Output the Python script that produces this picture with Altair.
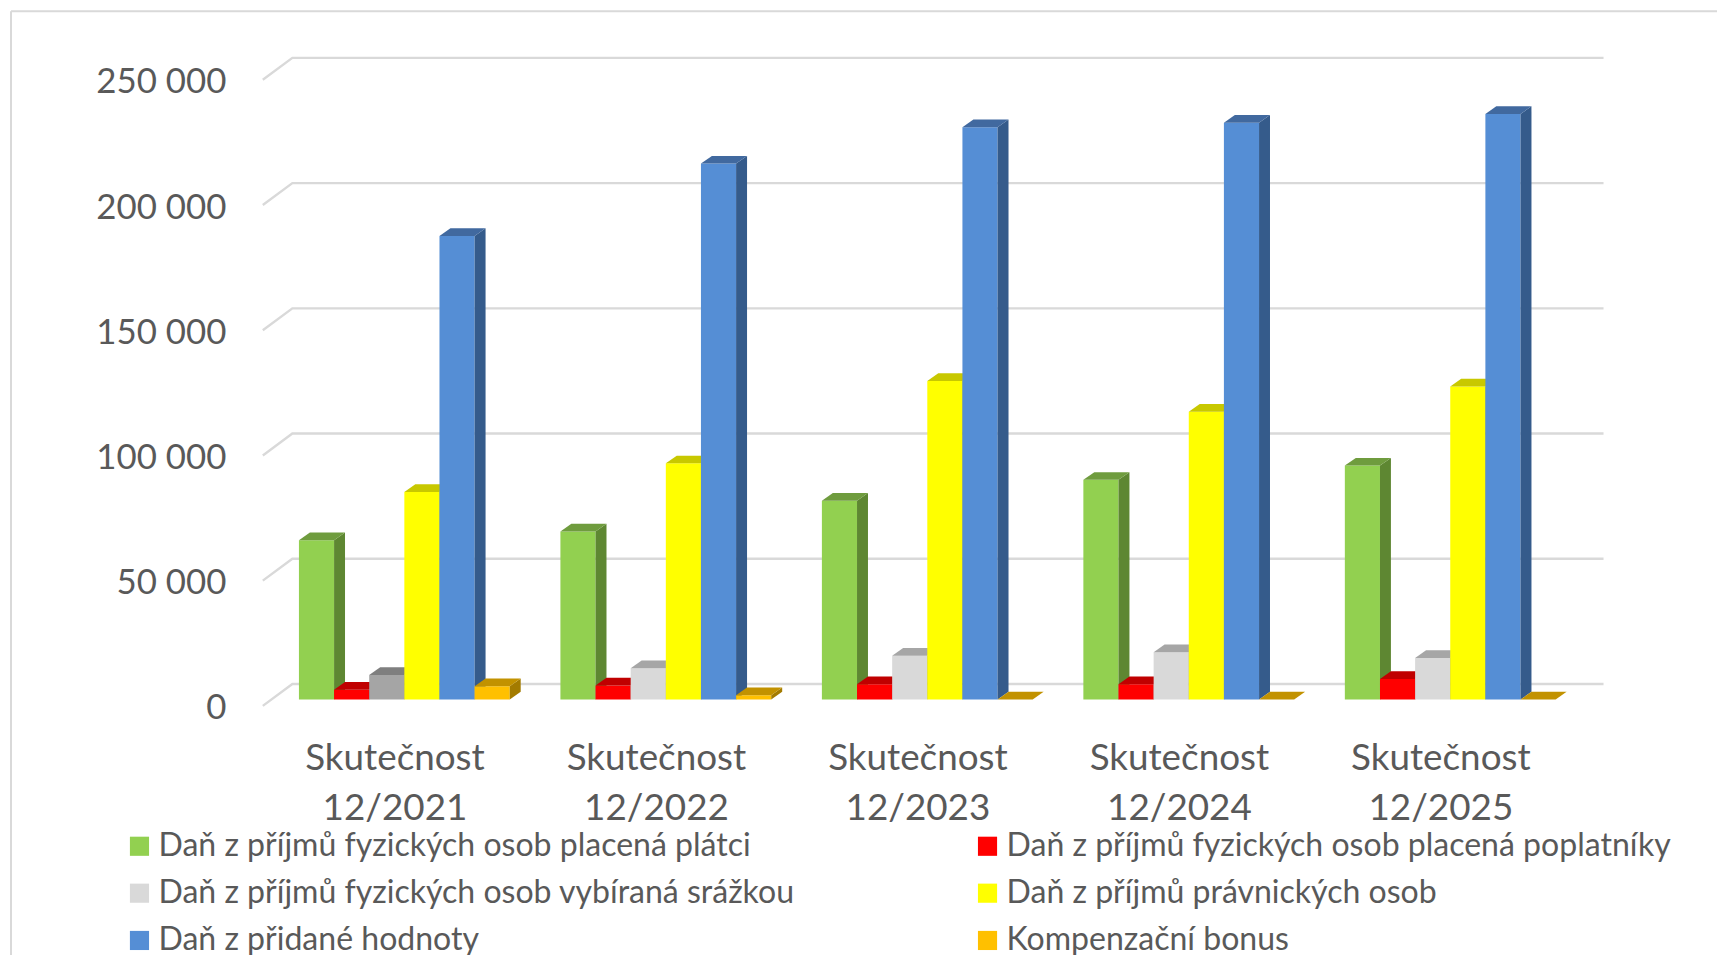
import altair as alt
import pandas as pd

categories = ["Skutečnost\n12/2021", "Skutečnost\n12/2022", "Skutečnost\n12/2023", "Skutečnost\n12/2024", "Skutečnost\n12/2025"]
series = [
    "Daň z příjmů fyzických osob placená plátci",
    "Daň z příjmů fyzických osob placená poplatníky",
    "Daň z příjmů fyzických osob vybíraná srážkou",
    "Daň z příjmů právnických osob",
    "Daň z přidané hodnoty",
    "Kompenzační bonus",
]
platci = [63600, 67100, 79400, 87700, 93400]
poplatnici = [3900, 5600, 6100, 6100, 8200]
srazkou = [9800, 12500, 17500, 18900, 16600]
pravnicke = [82900, 94300, 127200, 114900, 125000]
dph = [185100, 214000, 228500, 230300, 233800]
bonus = [5300, 1700, 0, 0, 0]
values = [platci, poplatnici, srazkou, pravnicke, dph, bonus]
y_ticks = [0, 50000, 100000, 150000, 200000, 250000]

front = ["#92D050", "#FF0000", "#D9D9D9", "#FFFF00", "#558ED5", "#FFC000"]
top_c = ["#6F9C3E", "#C00000", "#A6A6A6", "#C8C800", "#41699F", "#C29200"]
side_c = ["#5E8732", "#A30000", "#8E8E8E", "#A8A800", "#355B8B", "#A37B00"]
# the first period's withheld-tax bar is a darker grey in the original
special = {(2, 0): ("#A5A5A5", "#7F7F7F", "#6C6C6C")}

PW, PH = 1347.0, 629.0
PERIOD = 262.7
X0 = 36.3
BW = 35.3
DX, DY = 11.0, 7.7
WALL_DX, WALL_DY = 29.7, 15.6
FRONT_DY = 6.4
UY = 250000.0 / PH
TEXT = "#595959"
FONT = "Lato"

x_scale = alt.Scale(domain=[0, PW], nice=False, zero=False)
y_scale = alt.Scale(domain=[0, 250000], nice=False, zero=False)

X = lambda f: alt.X(f, type="quantitative", scale=x_scale, axis=None)
Y = lambda f: alt.Y(f, type="quantitative", scale=y_scale, stack=None)

grid_rows = []
for v in y_ticks:
    grid_rows += [
        {"v": v, "x": 0, "y": v - FRONT_DY * UY},
        {"v": v, "x": WALL_DX, "y": v + WALL_DY * UY},
        {"v": v, "x": PW, "y": v + WALL_DY * UY},
    ]
grid = alt.Chart(pd.DataFrame(grid_rows)).mark_line(
    color="#D9D9D9", strokeWidth=2.4, interpolate="linear"
).encode(x=X("x"), y=Y("y"), detail="v:N", order="x:Q")

axis_layer = alt.Chart(pd.DataFrame({"v": y_ticks})).mark_point(opacity=0).encode(
    y=alt.Y("v:Q", scale=y_scale, axis=alt.Axis(
        values=y_ticks, title=None, grid=False, ticks=False, domain=False,
        labelExpr="replace(format(datum.value, ','), ',', ' ')",
        labelFont=FONT, labelFontSize=35, labelColor=TEXT, labelPadding=37,
        labelOffset=8.5,
    ))
)

layers = [axis_layer, grid]
for s, vals in enumerate(values):
    fr, si, to = [], [], []
    for g, v in enumerate(vals):
        cf, ct, cs = special.get((s, g), (front[s], top_c[s], side_c[s]))
        xl = X0 + g * PERIOD + s * BW
        xr = xl + BW
        e = DY * UY
        fr.append({"g": g, "xl": xl, "xr": xr, "top": v, "zero": 0, "c": cf})
        si += [
            {"g": g, "x": xr, "y": 0, "y2": v, "c": cs},
            {"g": g, "x": xr + DX, "y": e, "y2": v + e, "c": cs},
        ]
        to += [
            {"g": g, "x": xl, "y": v, "y2": v, "c": ct},
            {"g": g, "x": xl + DX, "y": v, "y2": v + e, "c": ct},
            {"g": g, "x": xr, "y": v, "y2": v + e, "c": ct},
            {"g": g, "x": xr + DX, "y": v + e, "y2": v + e, "c": ct},
        ]
    color = alt.Color("c:N", scale=None, legend=None)
    layers.append(alt.Chart(pd.DataFrame(fr)).mark_rect().encode(
        x=X("xl"), x2="xr:Q", y=Y("top"), y2="zero:Q", color=color))
    layers.append(alt.Chart(pd.DataFrame(si)).mark_area(orient="vertical").encode(
        x=X("x"), y=Y("y"), y2="y2:Q", detail="g:N", color=color))
    layers.append(alt.Chart(pd.DataFrame(to)).mark_area(orient="vertical").encode(
        x=X("x"), y=Y("y"), y2="y2:Q", detail="g:N", color=color))

labels = alt.Chart(pd.DataFrame({
    "label": categories,
    "x": [X0 + g * PERIOD + 96.5 for g in range(5)],
})).mark_text(
    lineBreak="\n", lineHeight=50, font=FONT, fontSize=37, color=TEXT, baseline="middle", align="center",
).encode(x=X("x"), y=alt.value(689), text="label:N")
layers.append(labels)

legend_layer = alt.Chart(pd.DataFrame({"s": series})).mark_rect(opacity=0).encode(
    color=alt.Color("s:N", scale=alt.Scale(domain=series, range=front), sort=series,
        legend=alt.Legend(
            orient="none", legendX=-140, legendY=760, columns=2, title=None, direction="horizontal",
            symbolType="square", symbolSize=370, symbolOpacity=1, symbolStrokeWidth=0,
            labelFont=FONT, labelFontSize=32.2, labelColor=TEXT, labelLimit=900,
            columnPadding=177, rowPadding=14.5, labelOffset=3, gridAlign="each",
        )),
)
layers.append(legend_layer)

border_top = alt.Chart(pd.DataFrame({"a": [0]})).mark_rule(color="#D9D9D9", strokeWidth=2).encode(
    x=alt.value(-253), x2=alt.value(1470), y=alt.value(-62.5))
border_left = alt.Chart(pd.DataFrame({"a": [0]})).mark_rule(color="#D9D9D9", strokeWidth=2).encode(
    x=alt.value(-253), y=alt.value(-62.5), y2=alt.value(890))

chart = alt.layer(border_top, border_left, *layers).resolve_scale(color="independent").properties(
    width=PW, height=PH,
    padding={"left": 256, "top": 63.5, "right": 114, "bottom": 262},
    autosize=alt.AutoSizeParams(type="none"),
    background="white",
).configure_view(stroke=None)

chart.save("out.html", embed_options={"renderer": "svg", "actions": False})
